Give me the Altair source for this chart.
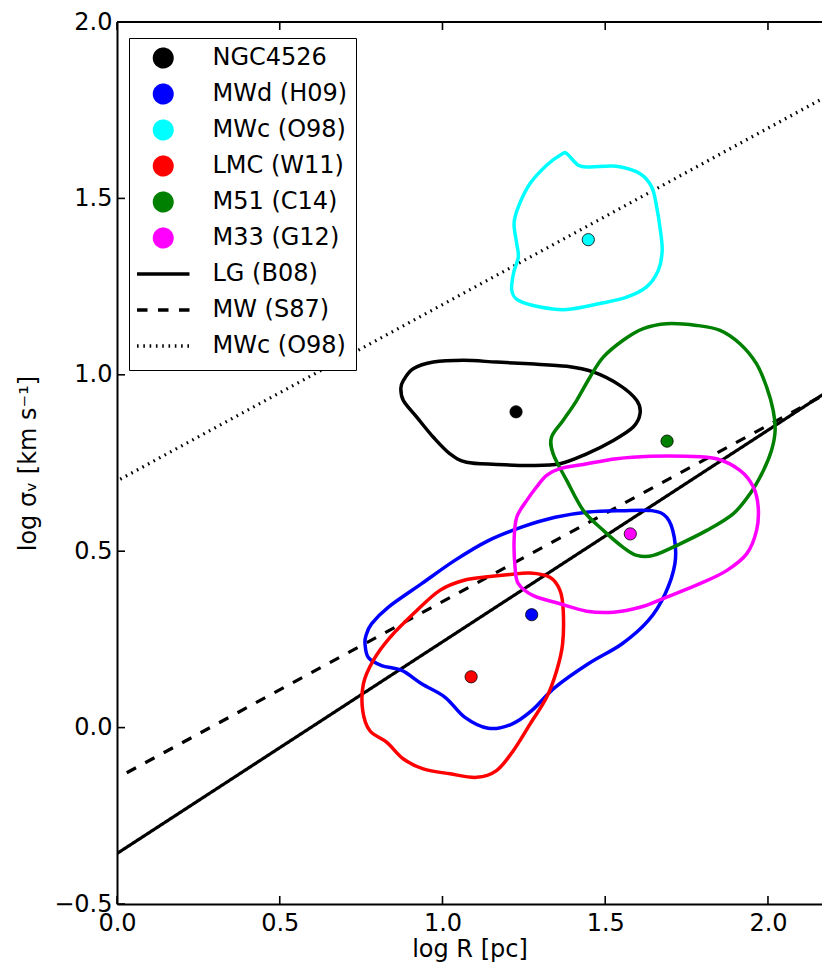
import altair as alt
import pandas as pd

# Legend entries (the last key carries a trailing space so both "MWc (O98)" rows stay distinct)
names = ["NGC4526", "MWd (H09)", "MWc (O98)", "LMC (W11)", "M51 (C14)", "M33 (G12)",
         "LG (B08)", "MW (S87)", "MWc (O98) "]
colors = ["black", "#0000ff", "#00ffff", "#ff0000", "#008000", "#ff00ff", "black", "black", "black"]
# line swatch: a horizontal stroke, with move-tos that give it the same box as a circle
shapes = ["circle"] * 6 + ["M-3,0H3M0,-1M0,1"] * 3
dashes = [[1, 0]] * 6 + [[1, 0], [10.5, 10.5], [1.6, 4.7]]

# Median cloud positions (log R [pc], log sigma_v [km/s])
point_names = names[:6]
point_x = [1.226, 1.274, 1.448, 1.088, 1.690, 1.577]
point_y = [0.895, 0.320, 1.383, 0.144, 0.812, 0.549]

# Size-linewidth relations, drawn between their end points
rel_names = ["LG (B08)", "MW (S87)", "MWc (O98) "]
rel_x0 = [0.0, 0.03, 0.01]
rel_y0 = [-0.357, -0.128, 0.704]
rel_x1 = [2.3, 2.3, 2.3]
rel_y1 = [1.023, 1.007, 1.849]

# Density contours of each cloud population
ngc_x = [0.872, 0.880, 0.910, 0.972, 1.064, 1.166, 1.269, 1.382, 1.463, 1.545, 1.597, 1.607,
         1.586, 1.525, 1.443, 1.361, 1.269, 1.166, 1.074, 1.023, 0.972, 0.921, 0.880]
ngc_y = [0.961, 0.984, 1.017, 1.036, 1.041, 1.036, 1.031, 1.024, 1.008, 0.970, 0.927, 0.890,
         0.852, 0.814, 0.776, 0.748, 0.743, 0.746, 0.752, 0.776, 0.823, 0.880, 0.927]

mwd_x = [0.762, 0.772, 0.813, 0.875, 0.936, 1.008, 1.069, 1.141, 1.213, 1.274, 1.346, 1.448,
         1.551, 1.632, 1.684, 1.714, 1.712, 1.689, 1.643, 1.551, 1.448, 1.346, 1.243, 1.141,
         1.038, 0.936, 0.833, 0.782, 0.765]
mwd_y = [0.237, 0.199, 0.176, 0.162, 0.124, 0.086, 0.029, -0.002, 0.010, 0.048, 0.114, 0.181,
         0.237, 0.303, 0.379, 0.464, 0.540, 0.596, 0.615, 0.615, 0.611, 0.596, 0.568, 0.530,
         0.474, 0.408, 0.341, 0.294, 0.261]

mwc_x = [1.382, 1.417, 1.453, 1.535, 1.607, 1.643, 1.658, 1.668, 1.675, 1.663, 1.627, 1.566,
         1.484, 1.382, 1.300, 1.233, 1.213, 1.218, 1.233, 1.228, 1.220, 1.233, 1.269, 1.320, 1.366]
mwc_y = [1.627, 1.594, 1.589, 1.591, 1.570, 1.532, 1.476, 1.419, 1.353, 1.296, 1.249, 1.220,
         1.202, 1.185, 1.192, 1.211, 1.239, 1.287, 1.334, 1.372, 1.429, 1.476, 1.542, 1.594, 1.625]

lmc_x = [1.269, 1.330, 1.361, 1.371, 1.369, 1.351, 1.320, 1.269, 1.218, 1.166, 1.105, 1.023,
         0.941, 0.880, 0.829, 0.777, 0.755, 0.757, 0.787, 0.839, 0.921, 0.992, 1.064, 1.146, 1.207]
lmc_y = [0.438, 0.426, 0.389, 0.332, 0.237, 0.162, 0.086, 0.010, -0.065, -0.122, -0.141, -0.131,
         -0.117, -0.089, -0.042, -0.009, 0.048, 0.124, 0.190, 0.256, 0.332, 0.389, 0.417, 0.428, 0.434]

m51_x = [1.689, 1.781, 1.853, 1.914, 1.965, 1.996, 2.016, 2.022, 2.011, 1.986, 1.945, 1.893,
         1.812, 1.730, 1.648, 1.597, 1.555, 1.494, 1.433, 1.382, 1.340, 1.335, 1.371, 1.412,
         1.453, 1.494, 1.555, 1.617]
m51_y = [1.145, 1.140, 1.126, 1.088, 1.031, 0.965, 0.899, 0.842, 0.786, 0.729, 0.663, 0.606,
         0.559, 0.521, 0.488, 0.488, 0.511, 0.559, 0.615, 0.700, 0.776, 0.823, 0.871, 0.927,
         0.993, 1.050, 1.098, 1.131]

m33_x = [1.361, 1.433, 1.535, 1.637, 1.750, 1.842, 1.914, 1.955, 1.970, 1.965, 1.935, 1.873,
         1.791, 1.689, 1.607, 1.525, 1.443, 1.361, 1.279, 1.233, 1.223, 1.220, 1.228, 1.259,
         1.289, 1.320]
m33_y = [0.734, 0.746, 0.762, 0.769, 0.769, 0.762, 0.729, 0.682, 0.625, 0.559, 0.493, 0.445,
         0.408, 0.370, 0.341, 0.327, 0.330, 0.351, 0.374, 0.408, 0.455, 0.530, 0.596, 0.644,
         0.682, 0.715]

x_ticks = [0.0, 0.5, 1.0, 1.5, 2.0]
y_ticks = [-0.5, 0.0, 0.5, 1.0, 1.5, 2.0]

W, H = 705, 882
FONT = "DejaVu Sans"

# ---- tables -------------------------------------------------------------
points = pd.DataFrame({"name": point_names, "x": point_x, "y": point_y})

rel_rows = []
for n, a, b, c, d in zip(rel_names, rel_x0, rel_y0, rel_x1, rel_y1):
    rel_rows += [{"name": n, "x": a, "y": b, "i": 0}, {"name": n, "x": c, "y": d, "i": 1}]
relations = pd.DataFrame(rel_rows)

contour_rows = []
for n, xs_, ys_ in zip(point_names,
                       [ngc_x, mwd_x, mwc_x, lmc_x, m51_x, m33_x],
                       [ngc_y, mwd_y, mwc_y, lmc_y, m51_y, m33_y]):
    for i, (a, b) in enumerate(zip(xs_, ys_)):
        contour_rows.append({"name": n, "x": a, "y": b, "i": i})
contours = pd.DataFrame(contour_rows)

xticks_df = pd.DataFrame({"v": x_ticks})
yticks_df = pd.DataFrame({"v": y_ticks})
one = pd.DataFrame({"k": [0]})

# ---- scales & one shared legend -------------------------------------------
xs = alt.Scale(domain=[0, 2.166], nice=False, zero=False)
ys = alt.Scale(domain=[-0.5, 2.0], nice=False, zero=False)
fill_scale = alt.Scale(domain=names, range=colors)
stroke_scale = alt.Scale(domain=names, range=colors)
shape_scale = alt.Scale(domain=names, range=shapes)
dash_scale = alt.Scale(domain=names, range=dashes)

legend = alt.Legend(
    orient="none", legendX=12, legendY=16, title=None, direction="vertical",
    symbolSize=306, symbolStrokeWidth=3.5, symbolOffset=14.25, labelOffset=37.25,
    labelFont=FONT, labelFontSize=24, labelColor="black", labelLimit=0,
    rowPadding=4, padding=8, strokeColor="black", fillColor="white", cornerRadius=0,
    symbolOpacity=1,
)

x_axis = alt.Axis(values=x_ticks, format=".1f", ticks=False, grid=False, labelPadding=7,
                  labelFlush=False,
                  title="log R [pc]", titleX=W / 2, titleY=52, titleAlign="center",
                  titleBaseline="alphabetic")
y_axis = alt.Axis(values=y_ticks, ticks=False, grid=False, labelPadding=5, labelFlush=False,
                  labelExpr="replace(format(datum.value, '.1f'), '-', '\u2212')",
                  title="log \u03c3\u1d65 [km s\u207b\u00b9]", titleX=-82, titleY=H / 2,
                  titleAlign="center", titleBaseline="alphabetic")

X = alt.X("x:Q", scale=xs, axis=x_axis)
Y = alt.Y("y:Q", scale=ys, axis=y_axis)
S = alt.Stroke("name:N", scale=stroke_scale, legend=legend)

rel_layer = alt.Chart(relations).mark_line(strokeWidth=3.2, clip=True).encode(
    x=X, y=Y, stroke=S,
    strokeDash=alt.StrokeDash("name:N", scale=dash_scale, legend=legend),
    order=alt.Order("i:Q"),
)

contour_layer = alt.Chart(contours).mark_line(
    strokeWidth=3.5, interpolate="cardinal-closed", clip=True
).encode(x=X, y=Y, stroke=S, order=alt.Order("i:Q"))

point_layer = alt.Chart(points).mark_point(
    filled=True, size=150, stroke="black", strokeWidth=0.8, opacity=1
).encode(
    x=X, y=Y,
    fill=alt.Fill("name:N", scale=fill_scale, legend=legend),
    shape=alt.Shape("name:N", scale=shape_scale, legend=legend),
)

# inward-pointing ticks and the top spine
tick_style = dict(color="black", strokeWidth=1.6)
left_ticks = alt.Chart(yticks_df).mark_rule(**tick_style).encode(
    y=alt.Y("v:Q", scale=ys), x=alt.value(0), x2=alt.value(8))
bottom_ticks = alt.Chart(xticks_df).mark_rule(**tick_style).encode(
    x=alt.X("v:Q", scale=xs), y=alt.value(H), y2=alt.value(H - 8))
top_ticks = alt.Chart(xticks_df).mark_rule(**tick_style).encode(
    x=alt.X("v:Q", scale=xs), y=alt.value(0), y2=alt.value(8))
top_spine = alt.Chart(one).mark_rule(color="black", strokeWidth=2).encode(
    x=alt.value(0), x2=alt.value(W + 5), y=alt.value(0))

chart = alt.layer(
    rel_layer, contour_layer, point_layer, left_ticks, bottom_ticks, top_ticks, top_spine
).properties(
    width=W, height=H,
    autosize=alt.AutoSizeParams(type="none"),
    padding={"left": 117, "top": 22, "right": 0, "bottom": 59},
    background="white",
).configure_view(stroke=None).configure_axis(
    labelFont=FONT, labelFontSize=24, labelColor="black",
    titleFont=FONT, titleFontSize=24, titleColor="black", titleFontWeight="normal",
    domainColor="black", domainWidth=2,
)

chart.save("out.html", embed_options={"renderer": "svg", "actions": False})
